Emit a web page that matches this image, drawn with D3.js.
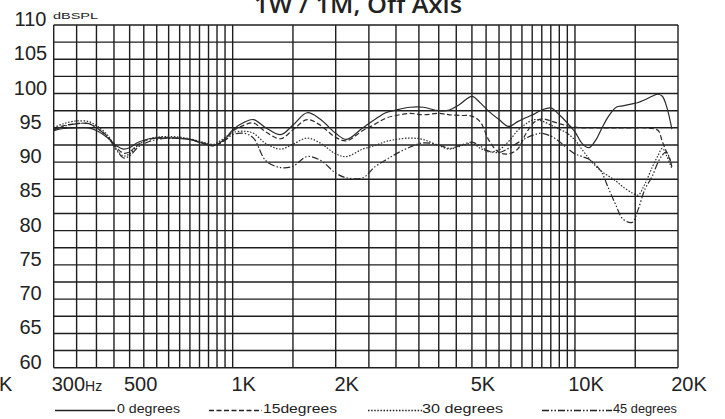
<!DOCTYPE html>
<html>
<head>
<meta charset="utf-8">
<script src="https://cdnjs.cloudflare.com/ajax/libs/d3/7.8.5/d3.min.js"></script>
<style>
  body { margin: 0; background: #fff; }
  svg { display: block; }
  text { font-family: "Liberation Sans", Arial, sans-serif; fill: #222; }
</style>
</head>
<body>
<svg id="chart"></svg>
<script>
var width = 725, height = 419;

var freqs = [300, 320, 350, 380, 400, 430, 460, 480, 500, 530, 570, 620, 680, 750, 820, 880, 950,
             1000, 1080, 1150, 1250, 1380, 1500, 1650, 1800, 2000, 2150, 2400,
             2600, 2800, 3000, 3300, 3600, 4000, 4300, 4600, 5000, 5300, 5600, 6000, 6400, 6800,
             7200, 7600, 8000, 8500, 9000, 9500, 10000, 10500, 11000, 11500, 12000, 12500,
             13200, 13800, 14700, 15300, 16000, 16800, 17500, 18000, 18500, 19200];

var spl0 = [94.6, 94.9, 95.0, 95.0, 94.6, 93.6, 92.3, 91.9, 92.1, 92.9, 93.4, 93.5, 93.5, 93.3, 92.8, 92.4, 93.4,
            94.7, 95.8, 96.2, 95.0, 94.0, 95.4, 97.2, 96.3, 94.2, 93.3, 95.0,
            96.2, 97.2, 97.6, 98.0, 98.0, 97.5, 97.6, 98.4, 99.6, 98.6, 97.4, 96.2, 95.2, 95.9,
            96.5, 97.0, 97.6, 97.9, 96.9, 95.7, 94.4, 92.7, 92.1, 93.2, 95.0, 96.6,
            98.0, 98.2, 98.5, 98.7, 99.1, 99.6, 99.9, 99.6, 98.2, 94.8];

var spl15 = [94.8, 95.3, 95.6, 95.6, 95.0, 93.8, 92.0, 91.3, 91.5, 92.6, 93.3, 93.6, 93.5, 93.3, 92.7, 92.4, 93.2,
             94.5, 95.4, 95.7, 94.4, 93.4, 94.7, 96.2, 95.4, 93.6, 93.1, 94.6,
             95.5, 96.4, 96.8, 97.1, 96.9, 97.1, 96.9, 96.8, 96.7, 95.8, 93.2, 91.4, 91.2, 91.9,
             94.2, 95.8, 96.3, 96.0, 95.6, 95.3, 95.1, 95.0, 95.0, 95.0, 95.0, 95.0,
             95.0, 95.0, 95.0, 95.0, 95.0, 94.9, 94.6, 93.0, 91.5, 89.8];

var spl30 = [95.0, 95.6, 96.0, 95.9, 95.3, 94.0, 91.7, 90.9, 91.2, 92.5, 93.4, 93.7, 93.7, 93.4, 92.9, 92.6, 93.6,
             94.3, 94.5, 94.2, 92.7, 91.9, 92.6, 93.5, 92.8, 91.2, 90.8, 91.9,
             92.4, 93.0, 93.3, 93.5, 93.3, 92.4, 91.9, 92.3, 92.7, 92.0, 91.5, 91.8, 93.0, 94.6,
             95.6, 96.2, 96.0, 95.4, 94.8, 94.2, 93.2, 91.8, 90.5, 89.4, 88.6, 88.0,
             87.2, 86.4, 85.5, 85.2, 86.8, 89.2, 91.0, 92.0, 91.0, 89.0];

var spl45 = [94.7, 95.2, 95.6, 95.6, 95.0, 93.7, 91.6, 90.6, 90.9, 92.2, 93.0, 93.4, 93.5, 93.3, 92.7, 92.4, 93.2,
             94.0, 94.2, 93.5, 90.2, 89.2, 89.4, 90.8, 90.3, 88.4, 87.7, 87.7,
             89.3, 90.3, 91.2, 92.2, 92.8, 92.5, 92.0, 92.4, 92.9, 92.3, 91.6, 91.4, 92.0, 92.8,
             93.5, 94.0, 94.2, 93.8, 93.0, 92.0, 91.2, 90.8, 90.4, 89.6, 88.4, 86.3,
             83.6, 81.7, 81.2, 83.1, 86.0, 87.9, 90.0, 91.0, 91.5, 89.3];

var seriesNames = ["0 degrees", "15 degrees", "30 degrees", "45 degrees"];
var seriesDash = ["none", "5,2.5", "1.5,1.6", "7,2,1.5,2,1.5,2"];

var yTicks = [60, 65, 70, 75, 80, 85, 90, 95, 100, 105, 110];
var xTickFreqs = [500, 1000, 2000, 5000, 10000, 20000];
var xTickText = ["500", "1K", "2K", "5K", "10K", "20K"];

var svg = d3.select("#chart").attr("width", width).attr("height", height);

var x = d3.scaleLog().domain([300, 20000]).range([53.7, 678]);
var y = d3.scaleLinear().domain([60, 110]).range([367.7, 25]);

// grid: 50 Hz steps to 1K, 500 Hz steps to 10K, then 15K / 20K
var gridFreqs = d3.range(300, 1001, 50)
  .concat(d3.range(1500, 10001, 500))
  .concat([15000, 20000]);
var gridLevels = d3.range(60, 110.1, 2.5);

var grid = svg.append("g").attr("class", "grid");
grid.selectAll("line.v")
  .data(gridFreqs)
  .enter().append("line")
  .attr("class", "v")
  .attr("x1", function(d) { return x(d); })
  .attr("x2", function(d) { return x(d); })
  .attr("y1", y(110))
  .attr("y2", y(60))
  .attr("stroke", "#1e1e1e")
  .attr("stroke-width", 1.4);

grid.selectAll("line.h")
  .data(gridLevels)
  .enter().append("line")
  .attr("class", "h")
  .attr("x1", x(300))
  .attr("x2", x(20000))
  .attr("y1", function(d) { return y(d); })
  .attr("y2", function(d) { return y(d); })
  .attr("stroke", "#1e1e1e")
  .attr("stroke-width", 1.4);

// curves
var allSeries = [spl0, spl15, spl30, spl45];
var line = d3.line()
  .x(function(d, i) { return x(freqs[i]); })
  .y(function(d) { return y(d); })
  .curve(d3.curveCatmullRom.alpha(0.5));

svg.append("g").attr("class", "curves")
  .selectAll("path")
  .data(allSeries)
  .enter().append("path")
  .attr("d", function(d) { return line(d); })
  .attr("fill", "none")
  .attr("stroke", "#2a2a2a")
  .attr("stroke-width", 1.2)
  .attr("stroke-dasharray", function(d, i) { return seriesDash[i]; });

// y axis labels
svg.append("g").selectAll("text")
  .data(yTicks)
  .enter().append("text")
  .attr("x", 30.5)
  .attr("y", function(d) { return y(d) + 1; })
  .attr("text-anchor", "middle")
  .style("font-size", "20px")
  .text(function(d) { return d; });

svg.append("text")
  .attr("x", 53)
  .attr("y", 18.5)
  .attr("textLength", 45)
  .attr("lengthAdjust", "spacingAndGlyphs")
  .style("font-size", "9.5px")
  .text("dBSPL");

// x axis labels
var xl = svg.append("g");
xl.selectAll("text")
  .data(xTickFreqs)
  .enter().append("text")
  .attr("x", function(d) { return x(d) + 11; })
  .attr("y", 390.5)
  .attr("text-anchor", "middle")
  .style("font-size", "20px")
  .text(function(d, i) { return xTickText[i]; });

var t300 = xl.append("text")
  .attr("x", x(300) - 2)
  .attr("y", 390.5)
  .style("font-size", "20px");
t300.append("tspan").text("300");
t300.append("tspan").style("font-size", "14px").text("Hz");

xl.append("text")
  .attr("x", -1)
  .attr("y", 390.5)
  .style("font-size", "20px")
  .text("K");

// title (cut off at the top in the original)
svg.append("text")
  .attr("x", 254)
  .attr("y", 12.5)
  .attr("textLength", 208)
  .attr("lengthAdjust", "spacingAndGlyphs")
  .style("font-family", "'Open Sans', sans-serif")
  .style("font-weight", 600)
  .style("font-size", "24px")
  .text("1W / 1M, Off Axis");

// legend
var legendLine = [[55, 115], [209, 262], [368, 422], [542, 612]];
var legendText = [[117, 63], [263, 74], [422, 81], [613, 64]];
var lg = svg.append("g").attr("class", "legend");
seriesNames.forEach(function(name, i) {
  lg.append("line")
    .attr("x1", legendLine[i][0])
    .attr("x2", legendLine[i][1])
    .attr("y1", 410.5)
    .attr("y2", 410.5)
    .attr("stroke", "#222")
    .attr("stroke-width", 1.3)
    .attr("stroke-dasharray", seriesDash[i]);
  lg.append("text")
    .attr("x", legendText[i][0])
    .attr("y", 412.5)
    .attr("textLength", legendText[i][1])
    .attr("lengthAdjust", "spacingAndGlyphs")
    .style("font-size", "12px")
    .text(name.replace(" ", i == 1 ? "" : " "));
});
</script>
</body>
</html>
